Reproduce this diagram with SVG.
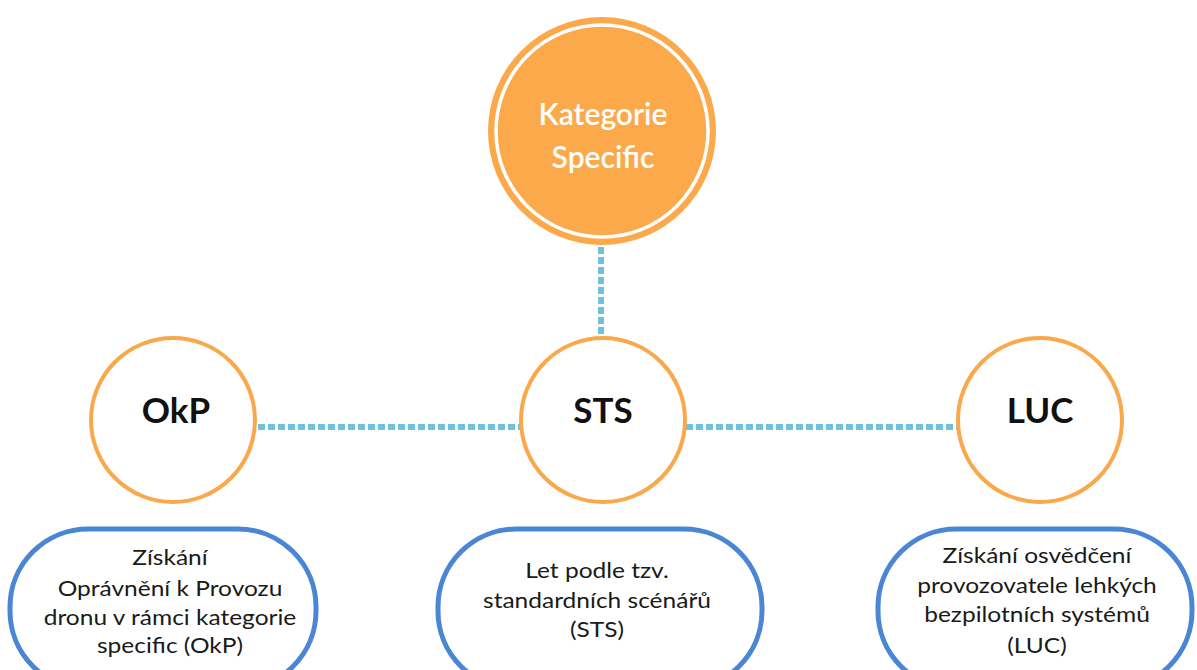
<svg xmlns="http://www.w3.org/2000/svg" width="1197" height="670" viewBox="0 0 1197 670">
<style>
.dash{stroke:#6EC2DD;stroke-width:6;stroke-dasharray:7 3;fill:none}
.ring{fill:#fff;stroke:#F9A94B;stroke-width:4}
.pill{fill:#fff;stroke:#4A86D4;stroke-width:5}
.big{font-family:Lato,"Open Sans",sans-serif;font-weight:bold;font-size:35px;fill:#111;text-anchor:middle}
.desc{font-family:Lato,"Open Sans",sans-serif;font-size:21.5px;fill:#1a1a1a;text-anchor:middle}
.top{font-family:Lato,"Open Sans",sans-serif;font-weight:600;font-size:30px;fill:#fff;text-anchor:middle}
</style>
<rect width="1197" height="670" fill="#fff"/>
<g id="connectors">
<line class="dash" x1="601" y1="247" x2="601" y2="338"/>
<line class="dash" x1="258" y1="427" x2="520" y2="427"/>
<line class="dash" x1="686" y1="427" x2="957" y2="427"/>
</g>
<g id="kategorie">
<circle cx="602" cy="131" r="114" fill="#FBA94A"/>
<circle cx="602" cy="131" r="106" fill="none" stroke="#fff" stroke-width="3.5"/>
<text class="top" x="603" y="125">Kategorie</text>
<text class="top" x="603" y="168">Specific</text>
</g>
<g id="okp">
<circle class="ring" cx="173" cy="420" r="82"/>
<text class="big" x="176" y="423">OkP</text>
</g>
<g id="sts">
<circle class="ring" cx="603" cy="420" r="82"/>
<text class="big" x="603" y="423">STS</text>
</g>
<g id="luc">
<circle class="ring" cx="1040" cy="420" r="82"/>
<text class="big" x="1040" y="423">LUC</text>
</g>
<g id="okp-desc">
<rect class="pill" x="10" y="529" width="306" height="160" rx="78"/>
<g transform="translate(170 0) scale(1.14 1)">
<text class="desc" x="0" y="565">Získání</text>
<text class="desc" x="0" y="596">Oprávnění k Provozu</text>
<text class="desc" x="0" y="625">dronu v rámci kategorie</text>
<text class="desc" x="0" y="653">specific (OkP)</text>
</g>
</g>
<g id="sts-desc">
<rect class="pill" x="438" y="529" width="324" height="160" rx="78"/>
<g transform="translate(597 0) scale(1.14 1)">
<text class="desc" x="0" y="578">Let podle tzv.</text>
<text class="desc" x="0" y="608">standardních scénářů</text>
<text class="desc" x="0" y="637">(STS)</text>
</g>
</g>
<g id="luc-desc">
<rect class="pill" x="878" y="529" width="314" height="160" rx="78"/>
<g transform="translate(1037 0) scale(1.14 1)">
<text class="desc" x="0" y="563">Získání osvědčení</text>
<text class="desc" x="0" y="593">provozovatele lehkých</text>
<text class="desc" x="0" y="622">bezpilotních systémů</text>
<text class="desc" x="0" y="653">(LUC)</text>
</g>
</g>
</svg>
